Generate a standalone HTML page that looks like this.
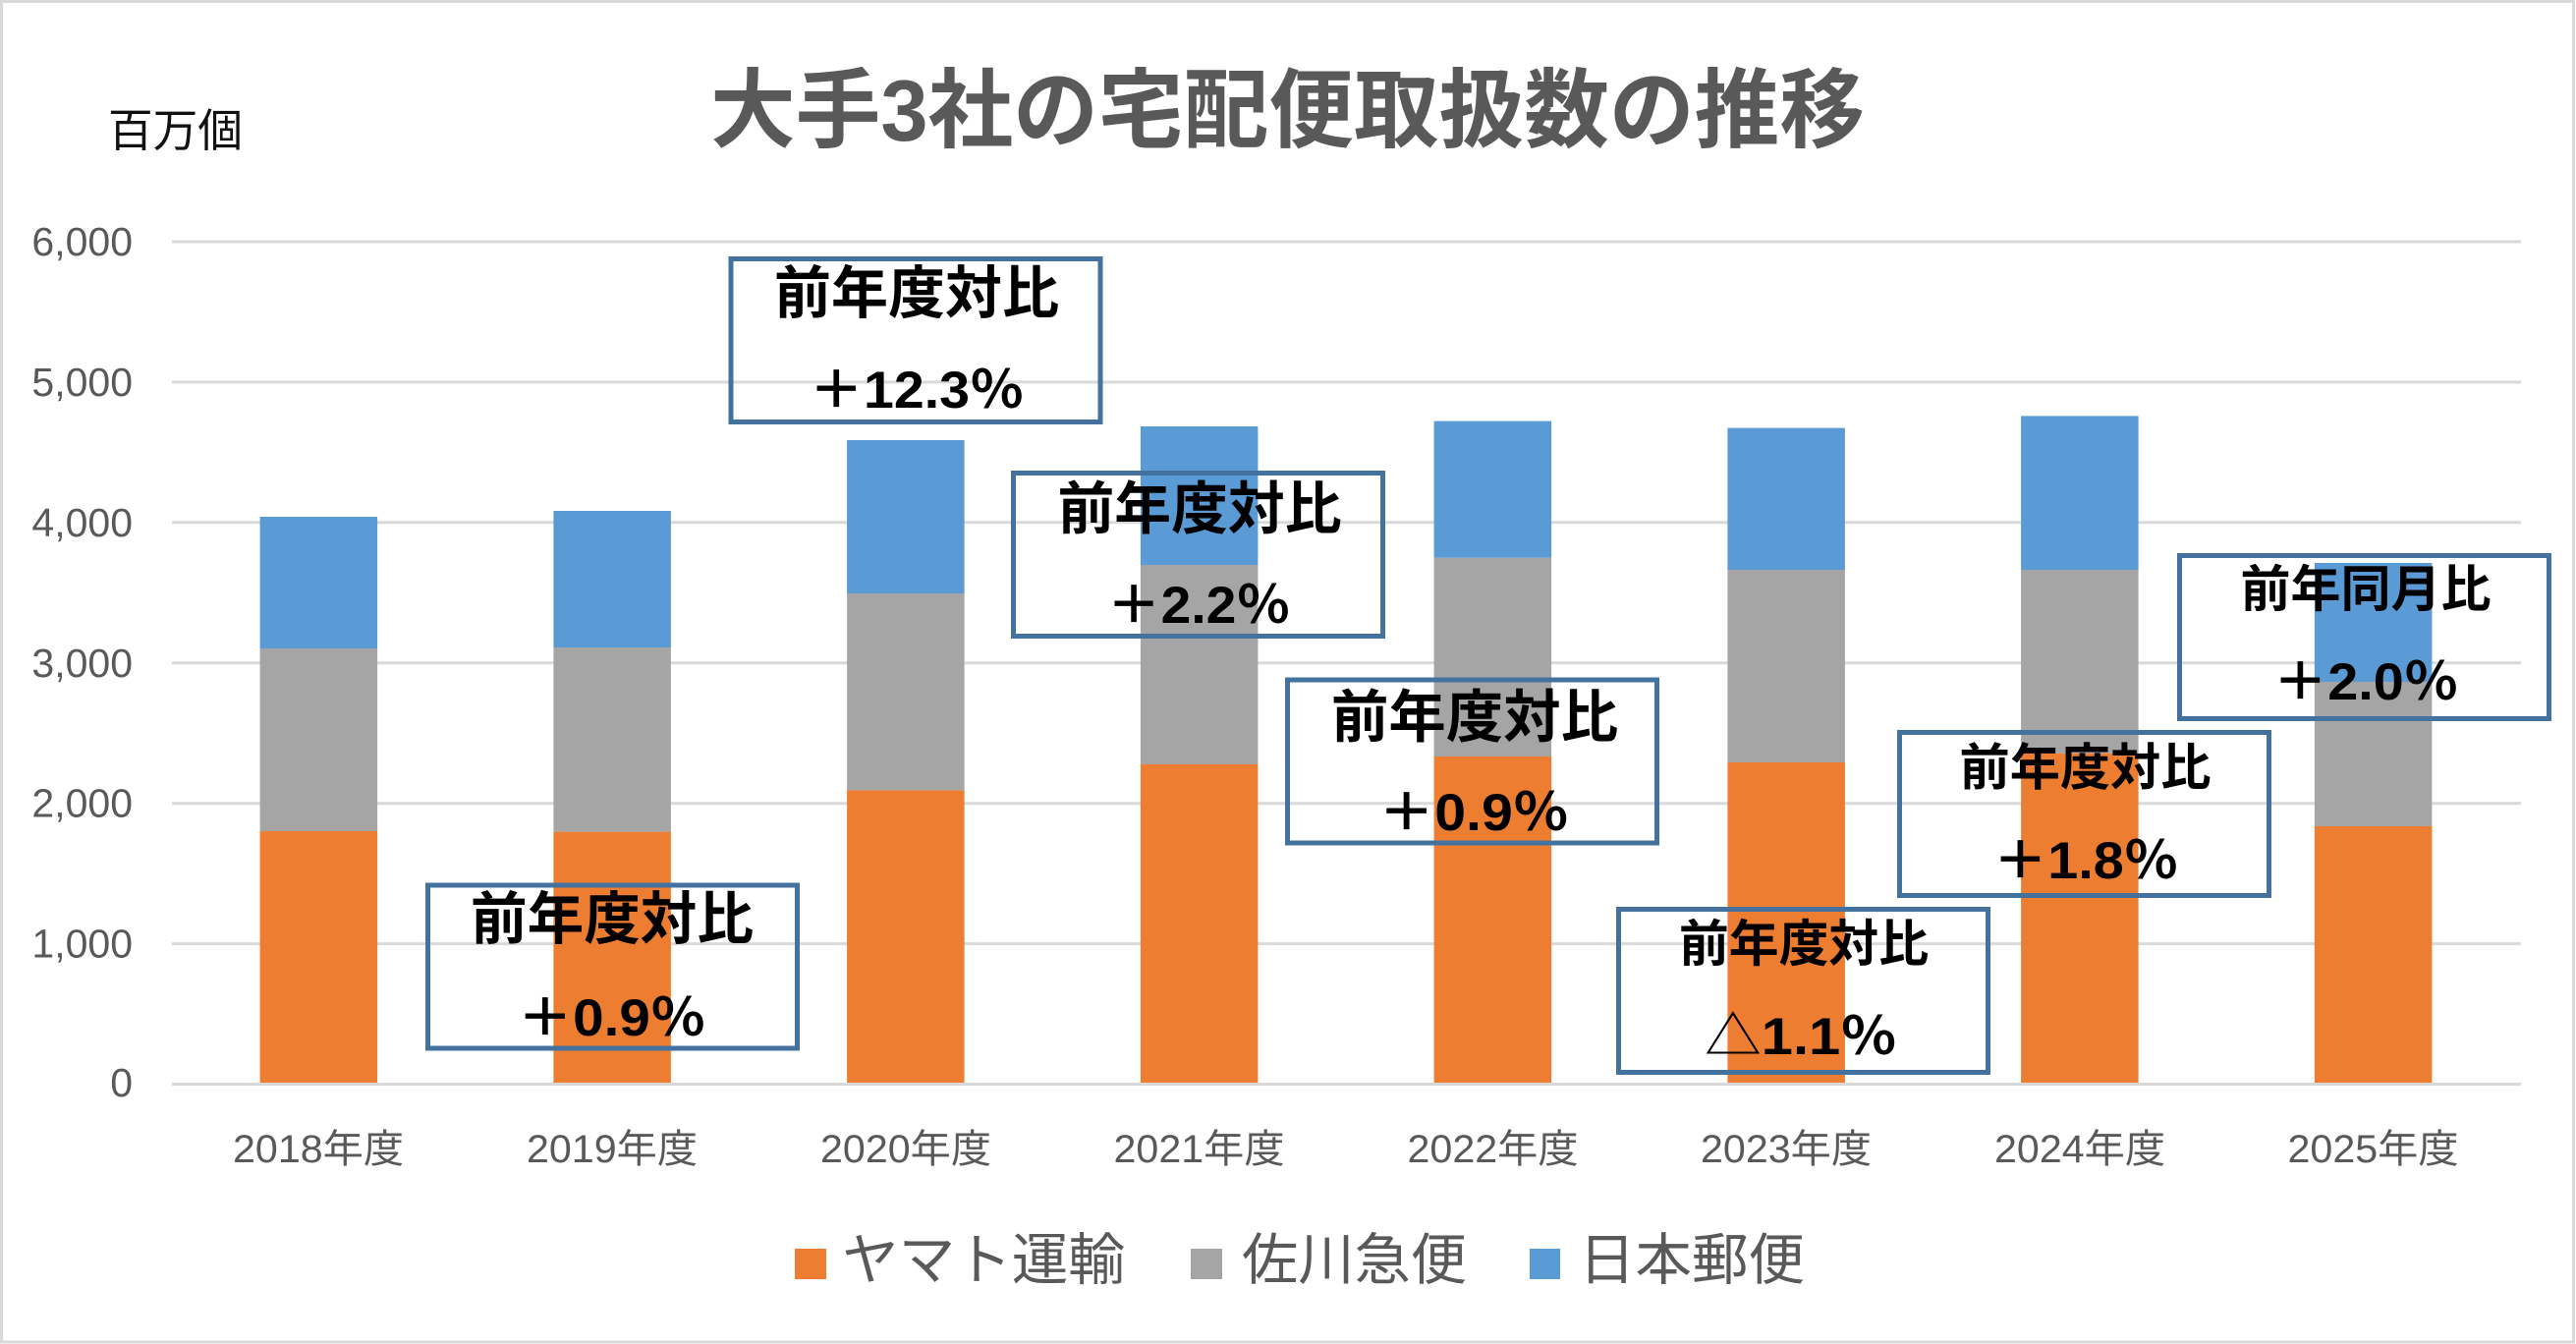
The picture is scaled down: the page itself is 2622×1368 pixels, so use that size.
<!DOCTYPE html>
<html>
<head>
<meta charset="utf-8">
<style>
html,body{margin:0;padding:0;background:#fff;}
svg{display:block;}
text{font-family:"Liberation Sans","Noto Sans CJK JP",sans-serif;}
.cjk{font-family:"Noto Sans CJK JP","Liberation Sans",sans-serif;}
</style>
</head>
<body>
<svg width="2622" height="1368" viewBox="0 0 2622 1368" xmlns="http://www.w3.org/2000/svg">
<rect x="0" y="0" width="2622" height="1368" fill="#fff"/>
<rect x="1.5" y="1.5" width="2618" height="1364.5" fill="none" stroke="#d9d9d9" stroke-width="3"/>

<!-- title -->
<text x="723" y="143" font-size="88" font-weight="bold" fill="#595959" textLength="1175" lengthAdjust="spacingAndGlyphs">大手3社の宅配便取扱数の推移</text>
<text x="110" y="149" font-size="46" fill="#111" textLength="137" lengthAdjust="spacingAndGlyphs">百万個</text>

<!-- gridlines -->
<g stroke="#d9d9d9" stroke-width="3">
<line x1="175" y1="246" x2="2566" y2="246"/>
<line x1="175" y1="388.9" x2="2566" y2="388.9"/>
<line x1="175" y1="531.8" x2="2566" y2="531.8"/>
<line x1="175" y1="674.7" x2="2566" y2="674.7"/>
<line x1="175" y1="817.7" x2="2566" y2="817.7"/>
<line x1="175" y1="960.6" x2="2566" y2="960.6"/>
<line x1="175" y1="1103.5" x2="2566" y2="1103.5"/>
</g>

<!-- y labels -->
<g font-size="41" fill="#595959" text-anchor="end">
<text x="135" y="260">6,000</text>
<text x="135" y="403">5,000</text>
<text x="135" y="546">4,000</text>
<text x="135" y="689">3,000</text>
<text x="135" y="831.5">2,000</text>
<text x="135" y="974.5">1,000</text>
<text x="135" y="1116">0</text>
</g>

<!-- bars -->
<g>
<!-- 2018 -->
<rect x="264.6" y="846" width="119.5" height="256" fill="#ed7d31"/>
<rect x="264.6" y="660" width="119.5" height="186" fill="#a5a5a5"/>
<rect x="264.6" y="526" width="119.5" height="134" fill="#5b9bd5"/>
<!-- 2019 -->
<rect x="563.4" y="846.6" width="119.5" height="255.4" fill="#ed7d31"/>
<rect x="563.4" y="659" width="119.5" height="187.6" fill="#a5a5a5"/>
<rect x="563.4" y="520" width="119.5" height="139" fill="#5b9bd5"/>
<!-- 2020 -->
<rect x="862.1" y="804.3" width="119.5" height="297.7" fill="#ed7d31"/>
<rect x="862.1" y="604" width="119.5" height="200.3" fill="#a5a5a5"/>
<rect x="862.1" y="448" width="119.5" height="156" fill="#5b9bd5"/>
<!-- 2021 -->
<rect x="1160.9" y="778" width="119.5" height="324" fill="#ed7d31"/>
<rect x="1160.9" y="575" width="119.5" height="203" fill="#a5a5a5"/>
<rect x="1160.9" y="434" width="119.5" height="141" fill="#5b9bd5"/>
<!-- 2022 -->
<rect x="1459.6" y="770" width="119.5" height="332" fill="#ed7d31"/>
<rect x="1459.6" y="567.7" width="119.5" height="202.3" fill="#a5a5a5"/>
<rect x="1459.6" y="428.6" width="119.5" height="139.1" fill="#5b9bd5"/>
<!-- 2023 -->
<rect x="1758.4" y="776" width="119.5" height="326" fill="#ed7d31"/>
<rect x="1758.4" y="580" width="119.5" height="196" fill="#a5a5a5"/>
<rect x="1758.4" y="435.6" width="119.5" height="144.4" fill="#5b9bd5"/>
<!-- 2024 -->
<rect x="2057.1" y="766.7" width="119.5" height="335.3" fill="#ed7d31"/>
<rect x="2057.1" y="580" width="119.5" height="186.7" fill="#a5a5a5"/>
<rect x="2057.1" y="423.4" width="119.5" height="156.6" fill="#5b9bd5"/>
<!-- 2025 -->
<rect x="2355.9" y="841" width="119.5" height="261" fill="#ed7d31"/>
<rect x="2355.9" y="694" width="119.5" height="147" fill="#a5a5a5"/>
<rect x="2355.9" y="573" width="119.5" height="121" fill="#5b9bd5"/>
</g>

<!-- x labels -->
<g font-size="40" fill="#595959" text-anchor="middle">
<text x="324" y="1183" textLength="174" lengthAdjust="spacingAndGlyphs">2018年度</text>
<text x="623" y="1183" textLength="174" lengthAdjust="spacingAndGlyphs">2019年度</text>
<text x="922" y="1183" textLength="174" lengthAdjust="spacingAndGlyphs">2020年度</text>
<text x="1220.5" y="1183" textLength="174" lengthAdjust="spacingAndGlyphs">2021年度</text>
<text x="1519.5" y="1183" textLength="174" lengthAdjust="spacingAndGlyphs">2022年度</text>
<text x="1818" y="1183" textLength="174" lengthAdjust="spacingAndGlyphs">2023年度</text>
<text x="2117" y="1183" textLength="174" lengthAdjust="spacingAndGlyphs">2024年度</text>
<text x="2415.5" y="1183" textLength="174" lengthAdjust="spacingAndGlyphs">2025年度</text>
</g>

<!-- annotation boxes -->
<g fill="none" stroke="#44729f" stroke-width="5">
<rect x="744" y="263.5" width="376" height="166"/>
<rect x="435.5" y="901" width="376" height="166"/>
<rect x="1031.5" y="481.5" width="376" height="166"/>
<rect x="1310.5" y="692" width="376" height="166"/>
<rect x="1647.5" y="925.5" width="376" height="166"/>
<rect x="1933.5" y="745.5" width="376" height="166"/>
<rect x="2218.5" y="565.5" width="376" height="166"/>
</g>

<!-- annotation text -->
<g fill="#000" font-weight="bold" text-anchor="middle">
<text class="cjk" x="933" y="318.5" font-size="58" textLength="290" lengthAdjust="spacingAndGlyphs">前年度対比</text>
<text x="933" y="415" font-size="53" textLength="219" lengthAdjust="spacingAndGlyphs">＋12.3％</text>

<text class="cjk" x="623" y="955.5" font-size="58" textLength="288" lengthAdjust="spacingAndGlyphs">前年度対比</text>
<text x="622.5" y="1054" font-size="53" textLength="192" lengthAdjust="spacingAndGlyphs">＋0.9％</text>

<text class="cjk" x="1221" y="538" font-size="58" textLength="289" lengthAdjust="spacingAndGlyphs">前年度対比</text>
<text x="1220" y="634" font-size="53" textLength="187" lengthAdjust="spacingAndGlyphs">＋2.2％</text>

<text class="cjk" x="1501" y="750" font-size="58" textLength="292" lengthAdjust="spacingAndGlyphs">前年度対比</text>
<text x="1500" y="845" font-size="53" textLength="194" lengthAdjust="spacingAndGlyphs">＋0.9％</text>

<text class="cjk" x="1836" y="978.6" font-size="51" textLength="254" lengthAdjust="spacingAndGlyphs">前年度対比</text>
<text x="1833" y="1073" font-size="53" textLength="196" lengthAdjust="spacingAndGlyphs"><tspan class="cjk" font-weight="normal">△</tspan>1.1％</text>

<text class="cjk" x="2122.5" y="799" font-size="51" textLength="256" lengthAdjust="spacingAndGlyphs">前年度対比</text>
<text x="2123" y="894" font-size="53" textLength="189" lengthAdjust="spacingAndGlyphs">＋1.8％</text>

<text class="cjk" x="2408" y="617.7" font-size="51" textLength="255" lengthAdjust="spacingAndGlyphs">前年同月比</text>
<text x="2408" y="712" font-size="53" textLength="189" lengthAdjust="spacingAndGlyphs">＋2.0％</text>
</g>

<!-- legend -->
<rect x="809" y="1271" width="32" height="31" fill="#ed7d31"/>
<text x="857" y="1302" font-size="57" fill="#595959" textLength="288" lengthAdjust="spacingAndGlyphs">ヤマト運輸</text>
<rect x="1212" y="1271" width="32" height="31" fill="#a5a5a5"/>
<text x="1264" y="1302" font-size="57" fill="#595959" textLength="229" lengthAdjust="spacingAndGlyphs">佐川急便</text>
<rect x="1557" y="1271" width="31" height="31" fill="#5b9bd5"/>
<text x="1607" y="1302" font-size="57" fill="#595959" textLength="230" lengthAdjust="spacingAndGlyphs">日本郵便</text>
</svg>
</body>
</html>
